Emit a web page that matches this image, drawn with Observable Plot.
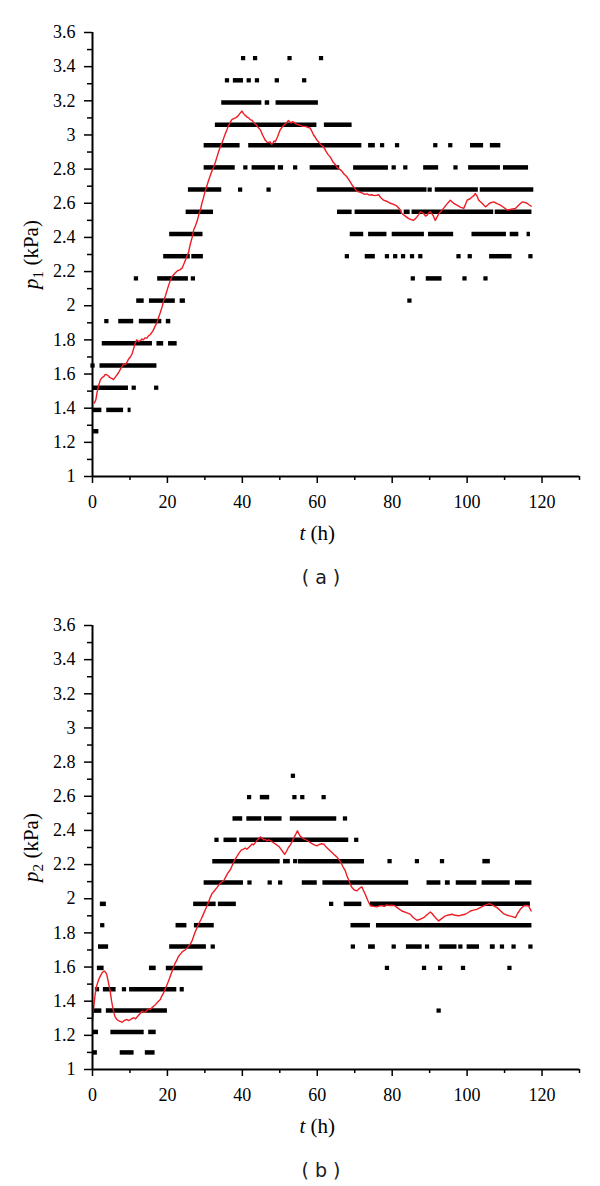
<!DOCTYPE html>
<html><head><meta charset="utf-8">
<script src="https://cdn.jsdelivr.net/npm/d3@7"></script>
<script src="https://cdn.jsdelivr.net/npm/@observablehq/plot@0.6"></script>
<style>
html,body{margin:0;padding:0;background:#fff;}
#chart svg{display:block;}
</style></head><body><div id="chart"></div>
<script>
// ---- axes ----
const xTicks = [0, 20, 40, 60, 80, 100, 120];
const xMinor = [10, 30, 50, 70, 90, 110, 130];
const yTicks = [1, 1.2, 1.4, 1.6, 1.8, 2, 2.2, 2.4, 2.6, 2.8, 3, 3.2, 3.4, 3.6];
const yMinor = [1.1, 1.3, 1.5, 1.7, 1.9, 2.1, 2.3, 2.5, 2.7, 2.9, 3.1, 3.3, 3.5];
const xTitle = "t (h)";
const yTitleA = "p1 (kPa)";
const yTitleB = "p2 (kPa)";
const captionA = "( a )";
const captionB = "( b )";

// ---- panel (a): quantized measurement levels (kPa) ----
const levelsA = [1.265, 1.39, 1.52, 1.65, 1.78, 1.91, 2.03, 2.16, 2.29, 2.42, 2.55, 2.68, 2.81, 2.94, 3.06, 3.19, 3.32, 3.45];
// runs of consecutive samples: [level index, t start (h), t end (h)]
const runsA = [
  [0,0.3,1.7],
  [1,0,2.5],[1,3.8,8.3],[1,9.5,10.3],
  [2,0,9.6],
  [3,2,17.2],
  [4,2.6,16],[4,17.2,19],[4,20.3,22.6],
  [5,7,11],[5,12.5,18.5],[5,19.7,20.9],
  [6,11.8,13.8],[6,15.2,22.1],[6,23.4,24.8],
  [7,17.4,25.6],[7,89.1,93.3],
  [8,19,26.1],[8,26.5,29.6],[8,72.8,75.5],[8,106,112],
  [9,20.6,29.5],[9,68.8,72.4],[9,73.7,78.6],[9,80,88.6],[9,89.7,96.4],[9,101.3,110.5],[9,111.5,113.8],[9,116,116.9],
  [10,25,32.3],[10,65.4,69.3],[10,70.1,82.6],[10,83.2,84.8],[10,85.3,107.1],[10,107.5,117.3],
  [11,25.6,34.5],[11,60,89.3],[11,91.5,103],[11,103.5,117.8],
  [12,29.8,38.1],[12,42.6,48.8],[12,49.6,51],[12,58.1,66],[12,69.7,79],[12,88.4,92.4],[12,100.4,108.9],[12,109.7,116.4],
  [13,29.8,39.4],[13,41.7,71.9],[13,73.7,75.5],[13,100.9,104.4],[13,106.2,109],
  [14,32.8,59.9],[14,61.9,69.3],
  [15,34.5,45.2],[15,46.1,47.3],[15,49,60.3],
  [16,37.6,40.3]
];
// isolated samples: [level index, t (h)]
const dotsA = [
  [2,11],[2,17],[3,0],[5,3.7],[6,84.6],[7,11.6],[7,26.8],[7,85.5],[7,99.3],[7,104.9],
  [8,67.9],[8,78.6],[8,80.8],[8,82.9],[8,85.3],[8,87.5],[8,97.7],[8,100.7],[8,116.9],
  [11,39.4],[11,47],[11,90],
  [12,40.8],[12,54.1],[12,80.4],[12,83.5],[12,96.9],
  [13,77.3],[13,81.3],[13,91.5],[13,95.5],
  [16,35.9],[16,41.7],[16,43.9],[16,49.2],[16,56.5],
  [17,40.2],[17,43.4],[17,52.6],[17,61]
];
// smoothed curve: [t (h), p (kPa)]
const curveA = [
  [0.5,1.43],[0.9,1.45],[1.2,1.49],[1.6,1.53],[2.1,1.566],[2.6,1.58],[3.0,1.585],[3.4,1.598],[3.8,1.596],[4.2,1.59],
  [4.6,1.58],[5.1,1.575],[5.6,1.567],[6.2,1.585],[6.9,1.606],[7.5,1.63],[8.3,1.66],[8.8,1.655],[9.2,1.67],[9.7,1.69],
  [10.1,1.70],[10.6,1.72],[11.0,1.75],[11.4,1.78],[11.8,1.80],[12.3,1.79],[12.8,1.795],[13.2,1.805],[13.6,1.80],[14.0,1.812],
  [14.5,1.81],[15.0,1.825],[15.4,1.83],[15.9,1.845],[16.3,1.86],[16.8,1.885],[17.2,1.9],[17.7,1.935],[18.1,1.96],[18.6,1.995],
  [19.0,2.03],[19.5,2.06],[19.9,2.09],[20.4,2.125],[20.8,2.15],[21.2,2.17],[21.6,2.18],[22.2,2.195],[22.7,2.205],[23.3,2.21],
  [23.9,2.22],[24.5,2.25],[25.2,2.29],[25.6,2.31],[26.1,2.36],[26.6,2.40],[27.0,2.443],[27.5,2.47],[28.0,2.50],[28.4,2.535],
  [28.8,2.56],[29.2,2.60],[29.6,2.63],[30.0,2.665],[30.5,2.70],[31.0,2.735],[31.4,2.76],[31.9,2.79],[32.3,2.81],[32.8,2.84],
  [33.2,2.87],[33.7,2.905],[34.1,2.93],[34.6,2.955],[35.0,2.98],[35.4,3.005],[35.9,3.03],[36.3,3.055],[36.8,3.075],[37.2,3.09],
  [37.7,3.095],[38.2,3.10],[38.8,3.11],[39.3,3.125],[39.9,3.14],[40.2,3.13],[40.5,3.12],[40.8,3.115],[41.2,3.105],[41.7,3.10],
  [42.1,3.09],[42.6,3.085],[43.1,3.07],[43.7,3.06],[44.2,3.045],[44.8,3.03],[45.4,3.0],[46.1,2.97],[46.7,2.955],[47.4,2.96],
  [47.8,2.945],[48.1,2.95],[48.5,2.965],[48.8,2.96],[49.4,2.99],[50.1,3.03],[50.6,3.045],[51.2,3.06],[51.8,3.07],[52.3,3.085],
  [52.7,3.075],[53.0,3.07],[53.4,3.078],[53.7,3.075],[54.3,3.065],[55.0,3.06],[55.5,3.056],[56.1,3.05],[56.8,3.05],[57.5,3.045],
  [58.1,3.04],[58.6,3.02],[59.0,3.0],[59.5,2.985],[59.9,2.97],[60.5,2.955],[61.1,2.94],[61.7,2.93],[62.3,2.905],[62.9,2.885],
  [63.5,2.87],[64.1,2.845],[64.7,2.83],[65.3,2.81],[65.9,2.80],[66.5,2.79],[67.2,2.77],[67.9,2.755],[68.5,2.735],[69.2,2.71],
  [69.9,2.69],[70.6,2.67],[71.3,2.665],[72.0,2.66],[72.6,2.652],[73.3,2.655],[73.9,2.648],[74.5,2.65],[75.2,2.645],[75.9,2.647],
  [76.4,2.65],[77.0,2.632],[77.7,2.618],[78.5,2.612],[79.5,2.60],[80.4,2.593],[81.3,2.583],[82.0,2.565],[82.6,2.54],[83.5,2.525],
  [84.4,2.51],[85.0,2.505],[85.7,2.50],[86.2,2.51],[86.6,2.52],[87.1,2.535],[87.5,2.55],[88.0,2.545],[88.4,2.54],[88.9,2.525],
  [89.3,2.53],[89.8,2.545],[90.2,2.55],[90.9,2.53],[91.5,2.50],[92.0,2.52],[92.5,2.54],[93.1,2.555],[93.7,2.57],[94.6,2.595],
  [95.5,2.618],[96.4,2.60],[97.3,2.589],[98.2,2.578],[99.1,2.57],[99.6,2.595],[100.0,2.618],[100.7,2.625],[101.3,2.637],[101.8,2.645],
  [102.2,2.657],[102.7,2.64],[103.1,2.618],[104.0,2.60],[104.9,2.579],[105.5,2.59],[106.0,2.60],[106.6,2.605],[107.1,2.608],[108.0,2.598],
  [108.9,2.589],[109.8,2.575],[110.7,2.56],[111.8,2.565],[112.9,2.57],[113.8,2.59],[114.7,2.608],[115.3,2.605],[116.0,2.60],[116.6,2.59],
  [117.1,2.583]
];

// ---- panel (b) ----
const levelsB = [1.10, 1.22, 1.345, 1.47, 1.595, 1.72, 1.845, 1.97, 2.095, 2.22, 2.345, 2.47, 2.595, 2.72];
const runsB = [
  [0,0,1.3],[0,7.4,11.1],[0,14.1,16.7],
  [1,0,1.6],[1,4.9,13.8],[1,15,17],
  [2,0,2.5],[2,3.7,20],
  [3,2.9,6.3],[3,9.9,22.5],[3,23.4,24.5],
  [4,1.3,3.1],[4,15.2,17],[4,19.7,29.5],
  [5,1.6,4.3],[5,20.6,30.4],[5,73.7,75.5],[5,83.8,88],[5,92.7,97.3],[5,100,103.3],[5,106.2,107.5],
  [6,22.3,25.2],[6,27.2,32.5],[6,69,74.2],[6,75.8,117.3],
  [7,2.1,3.7],[7,27,33],[7,33.6,38.4],[7,67.2,71.9],[7,74.2,116.9],
  [8,29.8,40.3],[8,56,60],[8,61.5,84.4],[8,89.3,93],[8,94.2,95.5],[8,97.1,102.6],[8,104,111.5],[8,112.9,117.3],
  [9,32.1,50.1],[9,51,52.8],[9,55,72.6],[9,104.2,106.2],
  [10,35.1,38.6],[10,39.3,68.4],
  [11,37.5,40.1],[11,41.2,45.2],[11,45.9,50.6],[11,52.8,65.2],
  [12,44.8,47.3]
];
const dotsB = [
  [2,92.4],[3,1.2],[3,8.4],
  [4,78.6],[4,88.5],[4,92.8],[4,98.9],[4,111.3],
  [5,32.1],[5,69.5],[5,80.4],[5,89.3],[5,98.2],[5,109.3],[5,112.4],[5,116.9],
  [6,2.6],[7,63.7],
  [8,41.9],[8,47.3],[8,50.1],
  [9,54.1],[9,79.3],[9,86.6],[9,93.3],
  [10,33.1],[10,70.4],[11,67.4],
  [12,41.8],[12,53.9],[12,56],[12,61.7],
  [13,53.5]
];
const curveB = [
  [0,1.283],[0.3,1.36],[0.7,1.44],[1.0,1.48],[1.4,1.51],[1.7,1.53],[2.1,1.547],[2.6,1.568],[3.1,1.577],[3.4,1.572],
  [3.8,1.557],[4.2,1.515],[4.7,1.46],[5.1,1.40],[5.6,1.342],[6.0,1.31],[6.5,1.293],[7.2,1.283],[7.9,1.277],[8.5,1.287],
  [9.2,1.293],[9.6,1.286],[10.0,1.29],[10.5,1.298],[11.0,1.303],[11.5,1.297],[12.0,1.31],[12.6,1.325],[13.2,1.342],[13.7,1.335],
  [14.3,1.34],[14.8,1.355],[15.4,1.352],[15.8,1.36],[16.3,1.37],[16.7,1.378],[17.2,1.39],[17.6,1.40],[18.1,1.41],[18.5,1.43],
  [19.0,1.45],[19.6,1.48],[20.3,1.518],[20.9,1.555],[21.6,1.596],[22.0,1.62],[22.5,1.64],[22.9,1.66],[23.4,1.674],[24.0,1.69],
  [24.7,1.70],[25.4,1.715],[26.1,1.733],[26.5,1.75],[27.0,1.78],[27.4,1.805],[27.9,1.83],[28.4,1.855],[29.0,1.88],[29.6,1.91],
  [30.1,1.935],[30.7,1.965],[31.4,2.006],[31.9,2.03],[32.5,2.045],[33.2,2.065],[33.7,2.08],[34.3,2.095],[35.0,2.104],[35.5,2.125],
  [36.1,2.15],[36.8,2.17],[37.3,2.195],[37.9,2.225],[38.6,2.25],[39.2,2.27],[39.7,2.285],[40.3,2.29],[40.8,2.297],[41.2,2.29],
  [41.9,2.305],[42.6,2.32],[43.0,2.315],[43.5,2.33],[44.1,2.345],[44.8,2.362],[45.2,2.355],[45.7,2.345],[46.1,2.348],[46.6,2.339],
  [47.0,2.345],[47.5,2.34],[48.3,2.328],[49.2,2.315],[49.8,2.305],[50.3,2.29],[50.8,2.275],[51.3,2.26],[51.8,2.278],[52.3,2.30],
  [52.8,2.315],[53.2,2.33],[53.7,2.355],[54.2,2.375],[54.7,2.398],[55.1,2.38],[55.5,2.365],[55.9,2.358],[56.4,2.35],[57.0,2.345],
  [57.5,2.338],[58.1,2.33],[58.6,2.322],[59.2,2.315],[59.9,2.31],[60.6,2.318],[61.2,2.322],[61.7,2.32],[62.3,2.305],[63.0,2.29],
  [63.7,2.275],[64.4,2.26],[65.2,2.245],[66.1,2.22],[66.8,2.19],[67.5,2.163],[67.9,2.135],[68.4,2.11],[68.8,2.085],[69.3,2.065],
  [70.0,2.05],[70.6,2.046],[71.2,2.06],[71.9,2.07],[72.3,2.05],[72.8,2.026],[73.5,1.99],[74.2,1.958],[75.0,1.955],[75.9,1.952],
  [76.6,1.958],[77.3,1.96],[77.9,1.955],[78.6,1.964],[79.3,1.96],[80.0,1.962],[80.8,1.958],[81.7,1.942],[82.6,1.928],[83.6,1.92],
  [84.8,1.91],[85.6,1.89],[86.6,1.874],[87.5,1.88],[88.4,1.889],[89.2,1.905],[90.2,1.922],[90.7,1.912],[91.1,1.90],[91.7,1.885],
  [92.4,1.87],[93.3,1.885],[94.2,1.90],[95.1,1.905],[96.0,1.909],[96.8,1.903],[97.7,1.90],[98.6,1.905],[99.5,1.909],[100.2,1.918],
  [100.9,1.928],[101.7,1.933],[102.6,1.938],[103.5,1.948],[104.4,1.958],[105.2,1.965],[106.0,1.971],[107.0,1.96],[108.0,1.948],[108.9,1.93],
  [109.7,1.913],[110.5,1.905],[111.3,1.90],[112.1,1.895],[112.9,1.889],[113.5,1.915],[114.2,1.938],[115.1,1.958],[115.8,1.96],[116.4,1.958],
  [117.1,1.928]
];

const SERIF = "'Liberation Serif', 'Times New Roman', serif";

function richText(svg, key, parts) {
  const t = svg.querySelector(`g[aria-description="${key}"] text`);
  if (!t) return;
  while (t.firstChild) t.removeChild(t.firstChild);
  for (const p of parts) {
    const s = document.createElementNS("http://www.w3.org/2000/svg", "tspan");
    s.textContent = p.text;
    if (p.italic) s.setAttribute("font-style", "italic");
    if (p.sub) { s.setAttribute("font-size", "0.72em"); s.setAttribute("dy", "0.3em"); }
    if (p.back) s.setAttribute("dy", "-0.216em");
    t.appendChild(s);
  }
}

function panel(levels, runs, dots, curve, yTitle, caption) {
  const runData = runs.map(([i, a, b]) => ({lv: levels[i], a, b}));
  const dotData = dots.map(([i, t]) => ({lv: levels[i], t}));
  const svg = Plot.plot({
    width: 600, height: 593,
    marginLeft: 92, marginRight: 21, marginTop: 32, marginBottom: 117,
    style: {fontFamily: SERIF, fontSize: "18px", color: "#000", background: "#fff", overflow: "visible"},
    x: {domain: [0, 130], axis: null, label: null},
    y: {domain: [1, 3.6], axis: null, label: null},
    marks: [
      Plot.ruleY(runData, {y: "lv", x1: "a", x2: "b", stroke: "#000", strokeWidth: 4.5}),
      Plot.dot(dotData, {x: "t", y: "lv", symbol: "square", r: 2.4, fill: "#000", stroke: null}),
      Plot.line(curve, {x: d => d[0], y: d => d[1], stroke: "#ee1c24", strokeWidth: 1.4}),
      Plot.axisY(yMinor, {tickSize: 5, fill: "none", strokeWidth: 1.5, label: null}),
      Plot.axisY(yTicks, {tickSize: 8, tickPadding: 9, tickFormat: d => String(d), strokeWidth: 1.5, label: null, fontFamily: SERIF, fontSize: 18}),
      Plot.axisX(xMinor, {tickSize: 4, fill: "none", strokeWidth: 1.5, label: null}),
      Plot.axisX(xTicks, {tickSize: 7, tickPadding: 12, strokeWidth: 1.5, label: null, fontFamily: SERIF, fontSize: 18}),
      Plot.ruleX([0], {strokeWidth: 2}),
      Plot.ruleY([1], {strokeWidth: 2}),
      Plot.text([xTitle], {x: [60], frameAnchor: "bottom", lineAnchor: "middle", textAnchor: "middle", dy: 57, fontSize: 21, fontFamily: SERIF, ariaDescription: "xtitle"}),
      Plot.text([yTitle], {y: [2.3], frameAnchor: "left", lineAnchor: "middle", textAnchor: "middle", dx: -61, rotate: -90, fontSize: 21, fontFamily: SERIF, ariaDescription: "ytitle"}),
      Plot.text([caption], {x: [61], frameAnchor: "bottom", lineAnchor: "middle", textAnchor: "middle", dy: 101, fontSize: 19, fontFamily: "'DejaVu Sans', sans-serif", fill: "#1a1a1a", ariaDescription: "caption"})
    ]
  });
  richText(svg, "xtitle", [{text: "t", italic: true}, {text: " (h)"}]);
  richText(svg, "ytitle", [{text: "p", italic: true}, {text: yTitle.slice(1, 2), sub: true}, {text: " (kPa)", back: true}]);
  return svg;
}

const root = document.getElementById("chart");
root.appendChild(panel(levelsA, runsA, dotsA, curveA, yTitleA, captionA));
root.appendChild(panel(levelsB, runsB, dotsB, curveB, yTitleB, captionB));
</script></body></html>
